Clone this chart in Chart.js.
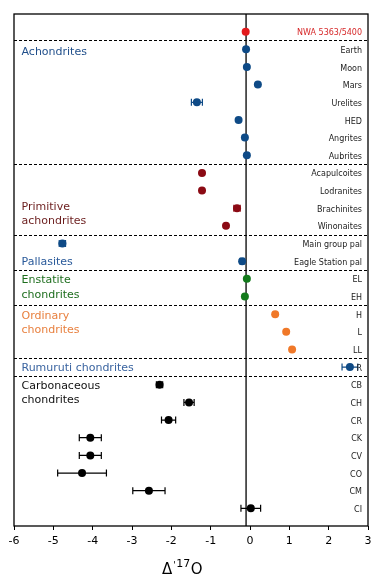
<!DOCTYPE html>
<html>
<head>
<meta charset="utf-8">
<script src="https://cdn.jsdelivr.net/npm/chart.js@4"></script>
<style>
html,body{margin:0;padding:0;background:#fff;}
#wrap{width:379px;height:585px;position:relative;}
</style>
</head>
<body>
<div id="wrap"><canvas id="c" width="379" height="585"></canvas></div>
<script>
// ---- data ----
const names = ["NWA 5363/5400","Earth","Moon","Mars","Urelites","HED","Angrites","Aubrites",
  "Acapulcoites","Lodranites","Brachinites","Winonaites",
  "Main group pal","Eagle Station pal","EL","EH","H","L","LL","R",
  "CB","CH","CR","CK","CV","CO","CM","CI"];
const d17O = [-0.11,-0.10,-0.08,0.20,-1.35,-0.29,-0.13,-0.08,
  -1.22,-1.22,-0.33,-0.61,
  -4.77,-0.20,-0.08,-0.13,0.64,0.92,1.07,2.54,
  -2.30,-1.55,-2.07,-4.06,-4.06,-4.27,-2.57,0.02];
const d17OErr = [0,0,0,0,0.14,0,0,0,
  0,0,0.08,0,
  0.08,0.05,0,0,0,0,0,0.2,
  0.08,0.13,0.18,0.28,0.28,0.62,0.41,0.25];
const groupOf = [0,1,1,1,1,1,1,1,2,2,2,2,3,3,4,4,5,5,5,6,7,7,7,7,7,7,7,7];
const groupNames = [null,["Achondrites"],["Primitive","achondrites"],["Pallasites"],
  ["Enstatite","chondrites"],["Ordinary","chondrites"],["Rumuruti chondrites"],["Carbonaceous","chondrites"]];
const groupPointColors = ["#e31a1c","#0e4a86","#8b0a14","#0e4a86","#137a1c","#f07828","#0e4a86","#000000"];
const groupTextColors = ["#d62728","#1f4e8a","#6b1d1d","#2a5a9a","#1e6e1e","#e8803f","#3a64a0","#111111"];
const xTicks = [-6,-5,-4,-3,-2,-1,0,1,2,3];
const refLine = -0.1;
// label anchor rows for group names (first line)
const groupLabelRow = [null,1.15,9.95,13.05,14.1,16.1,19.05,20.05];

const pts = names.map((n,i)=>({x:d17O[i], y:i}));
const ptColors = groupOf.map(g=>groupPointColors[g]);

const FONT = "'DejaVu Sans', sans-serif";

const overlay = {
  id:'overlay',
  beforeDatasetsDraw(chart){
    const {ctx, chartArea:a, scales:{x,y}} = chart;
    ctx.save();
    ctx.setLineDash([3,2]);
    ctx.strokeStyle='#000'; ctx.lineWidth=1;
    for(let i=1;i<groupOf.length;i++){
      if(groupOf[i]!==groupOf[i-1]){
        const yy = Math.round(y.getPixelForValue(i-0.5))+0.5;
        ctx.beginPath(); ctx.moveTo(a.left,yy); ctx.lineTo(a.right,yy); ctx.stroke();
      }
    }
    ctx.setLineDash([]);
    const xr = x.getPixelForValue(refLine);
    ctx.lineWidth=1.3;
    ctx.beginPath(); ctx.moveTo(xr,a.top); ctx.lineTo(xr,a.bottom); ctx.stroke();
    ctx.lineWidth=1.2;
    for(let i=0;i<names.length;i++){
      if(!d17OErr[i]) continue;
      const yy = y.getPixelForValue(i);
      const x1 = x.getPixelForValue(d17O[i]-d17OErr[i]);
      const x2 = x.getPixelForValue(d17O[i]+d17OErr[i]);
      ctx.strokeStyle = ptColors[i];
      ctx.beginPath();
      ctx.moveTo(x1,yy); ctx.lineTo(x2,yy);
      ctx.moveTo(x1,yy-3.5); ctx.lineTo(x1,yy+3.5);
      ctx.moveTo(x2,yy-3.5); ctx.lineTo(x2,yy+3.5);
      ctx.stroke();
    }
    ctx.restore();
  },
  afterDraw(chart){
    const {ctx, chartArea:a, scales:{x,y}} = chart;
    ctx.save();
    ctx.strokeStyle='#000'; ctx.lineWidth=1.3;
    ctx.strokeRect(a.left,a.top,a.right-a.left,a.bottom-a.top);
    ctx.font = "8px "+FONT;
    ctx.textAlign='right'; ctx.textBaseline='middle';
    for(let i=0;i<names.length;i++){
      ctx.fillStyle = i===0 ? groupTextColors[0] : '#222';
      ctx.fillText(names[i], a.right-6, y.getPixelForValue(i)+1.5);
    }
    ctx.font = "11px "+FONT;
    ctx.textAlign='left';
    for(let g=1;g<groupNames.length;g++){
      ctx.fillStyle = groupTextColors[g];
      const y0 = y.getPixelForValue(groupLabelRow[g]);
      groupNames[g].forEach((t,k)=>ctx.fillText(t, a.left+7.5, y0+k*14.3));
    }
    ctx.fillStyle='#000';
    ctx.textBaseline='alphabetic';
    const base = 574;
    let cx = 162;
    ctx.font = "15px "+FONT;
    ctx.fillText("\u0394", cx, base); cx += ctx.measureText("\u0394").width+1;
    ctx.font = "9px "+FONT;
    ctx.fillText("'", cx, base-6); cx += ctx.measureText("'").width+0.5;
    ctx.font = "11px "+FONT;
    ctx.fillText("17", cx, base-7); cx += ctx.measureText("17").width+0.5;
    ctx.font = "15px "+FONT;
    ctx.fillText("O", cx, base);
    ctx.restore();
  }
};

new Chart(document.getElementById('c'), {
  type:'scatter',
  data:{datasets:[{
    data:pts,
    pointRadius:4,
    pointBorderWidth:0,
    pointBackgroundColor:ptColors,
    pointBorderColor:ptColors,
    showLine:false
  }]},
  options:{
    responsive:false,
    animation:false,
    devicePixelRatio:1,
    layout:{padding:{left:14,right:11,top:14,bottom:0}},
    plugins:{legend:{display:false},tooltip:{enabled:false},title:{display:false}},
    scales:{
      x:{
        type:'linear', min:xTicks[0], max:xTicks[xTicks.length-1],
        afterBuildTicks(s){ s.ticks = xTicks.map(v=>({value:v})); },
        afterFit(s){ s.height = 59; },
        border:{display:false},
        grid:{display:true, drawOnChartArea:false, drawTicks:true, tickLength:4, color:'#000', lineWidth:1},
        ticks:{font:{family:FONT,size:11}, color:'#000', padding:5, maxRotation:0,
          callback:(v)=>String(v)}
      },
      y:{
        type:'linear', reverse:true, min:-1, max:names.length, display:false
      }
    }
  },
  plugins:[overlay]
});
</script>
</body>
</html>
